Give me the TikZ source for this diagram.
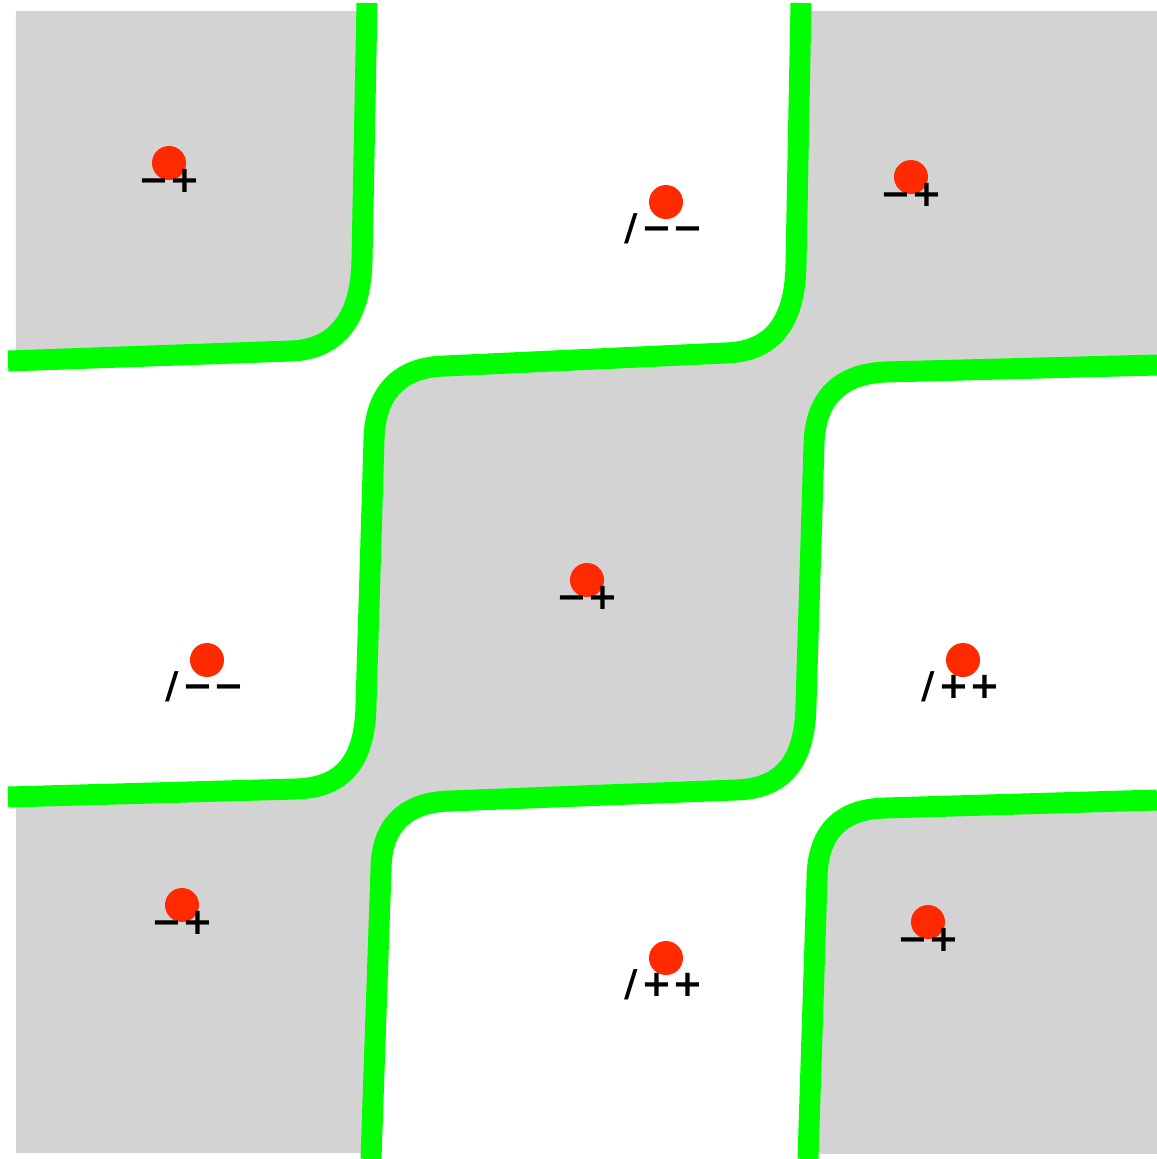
\documentclass[tikz,border=0pt]{standalone}
\usepackage{fontspec}
\usetikzlibrary{positioning}
\newfontfamily\signfont{DejaVu Sans}
\definecolor{Wall}{HTML}{00FF00}
\definecolor{Cell}{HTML}{D3D3D3}
\definecolor{Charge}{HTML}{FF2A00}
% domain walls, in pixel units
\newcommand\wallA{(367,3) -- (362,260) .. controls (361,320) and (335,350) .. (290,351) -- (8,361)}
\newcommand\wallB{(801,3) -- (796,265) .. controls (795,325) and (770,352) .. (725,353) -- (445,366) .. controls (400,367) and (375,392) .. (374,440) -- (366,705) .. controls (365,765) and (340,788) .. (295,789) -- (8,797)}
\newcommand\wallC{(1157,365) -- (885,372) .. controls (840,374) and (815,398) .. (814,445) -- (806,705) .. controls (805,765) and (780,789) .. (735,790) -- (450,801) .. controls (405,802) and (381,826) .. (381,870) -- (371,1159)}
\newcommand\wallD{(1157,800) -- (885,808) .. controls (840,809) and (817,833) .. (817,880) -- (808,1159)}

\begin{document}
\begin{tikzpicture}[x=0.01cm,y=-0.01cm,
  wall/.style={Wall,line width=0.21cm},
  charge/.style={circle,fill=Charge,inner sep=0pt,minimum size=0.34cm},
  sign/.style={anchor=base,inner sep=0pt,font=\signfont\bfseries\fontsize{10.5pt}{12pt}\selectfont}]
\useasboundingbox (0,0) rectangle (1157,1159);
\fill[Cell] (16,11) rectangle (1157,1153);
\fill[white] (0,0) -- (801,0) -- \wallB -- (0,797) -- cycle;
\begin{scope}
\clip (16,11) rectangle (1157,1153);
\fill[Cell] (0,0) -- (367,0) -- \wallA -- (0,361) -- cycle;
\fill[white] \wallC -- (1157,1159) -- cycle;
\fill[Cell] \wallD -- (1157,1159) -- cycle;
\end{scope}
\draw[wall] \wallA;
\draw[wall] \wallB;
\draw[wall] \wallC;
\draw[wall] \wallD;
% charges in the grey cells
\foreach \n/\x/\y in {tl/169/163,tr/911/177,c/587/580,bl/182/905,br/928/922}{
  \node[charge] (q\n) at (\x,\y) {};
  \node[sign] (s\n) at (\x,\y+29) {−+};
}
% charges in the white cells
\foreach \n/\x/\y in {tm/666/202,ml/207/660}{
  \node[charge] (q\n) at (\x,\y) {};
  \node[sign] (s\n) at (\x-2,\y+38) {/\kern1pt−−};
}
\foreach \n/\x/\y in {mr/963/660,bm/666/958}{
  \node[charge] (q\n) at (\x,\y) {};
  \node[sign] (s\n) at (\x-2,\y+38) {/\kern1pt++};
}
\end{tikzpicture}
\end{document}
